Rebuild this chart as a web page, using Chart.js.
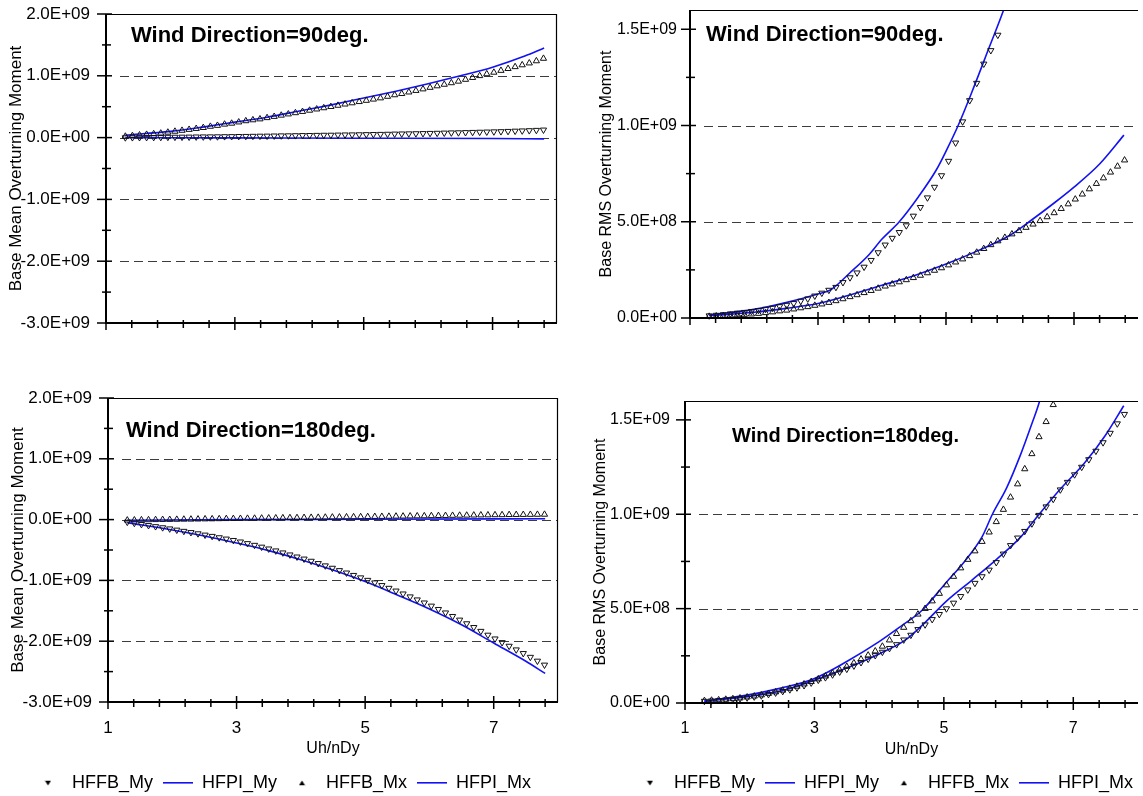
<!DOCTYPE html>
<html>
<head>
<meta charset="utf-8">
<title>Base Overturning Moment</title>
<script src="https://cdn.jsdelivr.net/npm/chart.js@4.4.1/dist/chart.umd.min.js"></script>
<style>
html,body{margin:0;padding:0;background:#fff;}
body{width:1143px;height:796px;overflow:hidden;position:relative;}
canvas{position:absolute;}
</style>
</head>
<body>
<canvas id="tl" width="580" height="340" style="left:0;top:0"></canvas>
<canvas id="tr" width="563" height="340" style="left:580px;top:0"></canvas>
<canvas id="bl" width="580" height="422" style="left:0;top:380px"></canvas>
<canvas id="br" width="563" height="422" style="left:580px;top:380px"></canvas>
<script>
// ---------------- data (moments in units of 1E+09) ----------------
const UNIT = 1e9;
const uh = [1.30,1.41,1.52,1.63,1.74,1.85,1.96,2.07,2.18,2.29,
            2.40,2.51,2.62,2.73,2.84,2.95,3.06,3.17,3.28,3.39,
            3.50,3.61,3.72,3.83,3.94,4.05,4.16,4.27,4.38,4.49,
            4.60,4.71,4.82,4.93,5.04,5.15,5.26,5.37,5.48,5.59,
            5.70,5.81,5.92,6.03,6.14,6.25,6.36,6.47,6.58,6.69,
            6.80,6.91,7.02,7.13,7.24,7.35,7.46,7.57,7.68,7.79];

// Wind Direction = 90deg, mean
const mean90_HFFB_My = [0.000,0.002,0.003,0.004,0.005,0.006,0.008,0.009,0.010,0.011,
                        0.013,0.014,0.015,0.016,0.018,0.019,0.021,0.022,0.024,0.026,
                        0.027,0.029,0.031,0.032,0.034,0.036,0.037,0.039,0.041,0.042,
                        0.044,0.046,0.047,0.049,0.051,0.053,0.055,0.057,0.060,0.062,
                        0.064,0.066,0.068,0.071,0.073,0.076,0.079,0.081,0.084,0.087,
                        0.090,0.093,0.096,0.099,0.103,0.107,0.111,0.115,0.120,0.125];
const mean90_HFFB_Mx = [0.020,0.030,0.040,0.050,0.060,0.070,0.085,0.100,0.115,0.130,
                        0.145,0.160,0.180,0.195,0.215,0.230,0.250,0.270,0.285,0.300,
                        0.320,0.340,0.360,0.380,0.400,0.420,0.440,0.460,0.480,0.500,
                        0.520,0.540,0.560,0.580,0.600,0.620,0.640,0.665,0.690,0.710,
                        0.735,0.760,0.785,0.810,0.835,0.860,0.885,0.910,0.940,0.970,
                        1.000,1.030,1.055,1.085,1.115,1.145,1.175,1.205,1.240,1.280];
const mean90_HFPI_My_x = [1.3,3.0,5.0,7.0,7.8];
const mean90_HFPI_My   = [0.0,-0.005,-0.01,-0.015,-0.02];
const mean90_HFPI_Mx_x = [1.3,2.0,2.5,3.0,3.5,4.0,4.5,5.0,5.5,6.0,6.5,7.0,7.5,7.8];
const mean90_HFPI_Mx   = [0.04,0.10,0.17,0.25,0.33,0.43,0.53,0.64,0.75,0.87,1.00,1.14,1.32,1.45];

// Wind Direction = 90deg, RMS
const rms90_HFFB_My = [0.012,0.015,0.018,0.022,0.026,0.030,0.035,0.040,0.046,0.052,
                       0.060,0.067,0.076,0.088,0.100,0.115,0.130,0.145,0.160,0.185,
                       0.210,0.235,0.265,0.300,0.340,0.380,0.415,0.445,0.480,0.530,
                       0.575,0.625,0.680,0.740,0.815,0.910,1.020,1.130,1.220,1.320,
                       1.390,1.470,null,null,null,null,null,null,null,null,
                       null,null,null,null,null,null,null,null,null,null];
const rms90_HFFB_Mx = [0.008,0.010,0.012,0.014,0.016,0.018,0.020,0.023,0.027,0.031,
                       0.036,0.040,0.046,0.052,0.058,0.065,0.072,0.080,0.089,0.099,
                       0.110,0.120,0.131,0.142,0.154,0.165,0.176,0.187,0.198,0.209,
                       0.221,0.234,0.247,0.260,0.275,0.290,0.306,0.323,0.341,0.360,
                       0.380,0.400,0.418,0.436,0.453,0.470,0.487,0.505,0.525,0.546,
                       0.568,0.592,0.617,0.643,0.670,0.698,0.727,0.757,0.788,0.820];
const rms90_HFPI_My_x = [1.3,2.0,2.5,3.0,3.2,3.5,3.8,4.0,4.27,4.57,4.85,5.02,5.19,5.4,5.68,5.9,5.95];
const rms90_HFPI_My   = [0.015,0.045,0.08,0.125,0.147,0.235,0.33,0.41,0.50,0.63,0.77,0.88,1.0,1.17,1.41,1.6,1.65];
const rms90_HFPI_Mx_x = [1.3,2.0,2.5,3.0,3.5,4.0,4.5,5.0,5.5,6.0,6.3,6.7,7.0,7.4,7.78];
const rms90_HFPI_Mx   = [0.012,0.03,0.05,0.075,0.12,0.17,0.22,0.28,0.35,0.43,0.50,0.60,0.68,0.80,0.95];

// Wind Direction = 180deg, mean
const mean180_HFFB_My = [-0.040,-0.058,-0.077,-0.095,-0.113,-0.131,-0.150,-0.170,-0.190,-0.210,
                         -0.230,-0.252,-0.273,-0.295,-0.317,-0.340,-0.365,-0.392,-0.420,-0.450,
                         -0.480,-0.512,-0.545,-0.578,-0.612,-0.646,-0.682,-0.720,-0.758,-0.797,
                         -0.836,-0.875,-0.915,-0.955,-0.996,-1.038,-1.082,-1.127,-1.172,-1.220,
                         -1.268,-1.318,-1.368,-1.420,-1.475,-1.532,-1.590,-1.650,-1.710,-1.772,
                         -1.835,-1.898,-1.960,-2.020,-2.080,-2.140,-2.200,-2.262,-2.325,-2.390];
const mean180_HFFB_Mx = [-0.010,-0.008,-0.006,-0.005,-0.003,-0.001,0.000,0.002,0.004,0.005,
                         0.007,0.009,0.010,0.012,0.014,0.015,0.017,0.019,0.020,0.022,
                         0.024,0.025,0.027,0.029,0.030,0.032,0.034,0.035,0.037,0.039,
                         0.040,0.042,0.044,0.045,0.047,0.049,0.050,0.052,0.054,0.055,
                         0.057,0.059,0.060,0.062,0.064,0.065,0.067,0.069,0.070,0.072,
                         0.074,0.075,0.077,0.078,0.080,0.081,0.082,0.083,0.084,0.085];
const mean180_HFPI_My_x = [1.3,2.0,2.5,3.0,3.5,4.0,4.5,5.0,5.5,6.0,6.5,7.0,7.5,7.8];
const mean180_HFPI_My   = [-0.05,-0.17,-0.27,-0.385,-0.51,-0.66,-0.83,-1.02,-1.24,-1.47,-1.73,-2.03,-2.33,-2.53];
const mean180_HFPI_Mx_x = [1.3,3.0,5.0,7.8];
const mean180_HFPI_Mx   = [-0.01,0.0,0.005,0.015];

// Wind Direction = 180deg, RMS
const rms180_HFFB_My = [0.010,0.012,0.014,0.017,0.020,0.024,0.028,0.033,0.039,0.046,
                        0.054,0.062,0.071,0.081,0.093,0.107,0.122,0.135,0.150,0.165,
                        0.180,0.197,0.215,0.233,0.252,0.270,0.290,0.310,0.335,0.360,
                        0.390,0.415,0.443,0.470,0.500,0.530,0.565,0.600,0.635,0.670,
                        0.705,0.745,0.790,0.835,0.875,0.910,0.950,0.995,1.040,1.080,
                        1.130,1.170,1.210,1.250,1.290,1.335,1.380,1.430,1.480,1.530];
const rms180_HFFB_Mx = [0.012,0.014,0.016,0.019,0.022,0.026,0.031,0.036,0.042,0.050,
                        0.058,0.067,0.077,0.088,0.100,0.113,0.127,0.142,0.158,0.175,
                        0.193,0.212,0.232,0.253,0.275,0.300,0.333,0.367,0.400,0.435,
                        0.470,0.500,0.540,0.580,0.625,0.670,0.715,0.760,0.805,0.855,
                        0.905,0.960,1.025,1.090,1.160,1.240,1.320,1.410,1.490,1.580,
                        null,null,null,null,null,null,null,null,null,null];
const rms180_HFPI_My_x = [1.3,2.0,2.5,3.0,3.5,4.0,4.39,4.66,5.04,5.43,5.81,6.19,6.46,6.79,7.17,7.5,7.78];
const rms180_HFPI_My   = [0.01,0.035,0.065,0.12,0.185,0.26,0.33,0.41,0.54,0.65,0.76,0.88,0.995,1.13,1.27,1.42,1.575];
const rms180_HFPI_Mx_x = [1.3,2.0,2.5,3.0,3.5,4.0,4.33,4.66,5.04,5.32,5.59,5.75,5.97,6.19,6.36,6.48,6.55];
const rms180_HFPI_Mx   = [0.01,0.045,0.08,0.13,0.22,0.325,0.405,0.49,0.64,0.75,0.88,1.0,1.14,1.32,1.48,1.60,1.70];

// tick labels
const xTickValues = [1, 3, 5, 7];
const xTickLabels = ['1', '3', '5', '7'];
const meanTickValues = [-3, -2, -1, 0, 1, 2];
const meanTickLabels = ['-3.0E+09', '-2.0E+09', '-1.0E+09', '0.0E+00', '1.0E+09', '2.0E+09'];
const rmsTickValues = [0, 0.5, 1, 1.5];
const rmsTickLabels = ['0.0E+00', '5.0E+08', '1.0E+09', '1.5E+09'];
const seriesNames = ['HFFB_My', 'HFPI_My', 'HFFB_Mx', 'HFPI_Mx'];
const xTitle = 'Uh/nDy';

// ---------------- rendering ----------------
const FONT = '"Liberation Sans", Arial, Helvetica, sans-serif';
Chart.defaults.font.family = FONT;
Chart.defaults.color = '#000';
const BLUE = '#1212f2';

function pts(xs, ys) {
  const out = [];
  xs.forEach((x, i) => { if (ys[i] !== null && ys[i] !== undefined) out.push({x: x, y: ys[i] * UNIT}); });
  return out;
}
function triImg(down) {
  const c = document.createElement('canvas'); c.width = 7; c.height = 6;
  const g = c.getContext('2d'); g.fillStyle = '#000'; g.beginPath();
  if (down) { g.moveTo(0.5, 0.8); g.lineTo(6.5, 0.8); g.lineTo(3.5, 5.6); }
  else { g.moveTo(3.5, 0.4); g.lineTo(6.5, 5.2); g.lineTo(0.5, 5.2); }
  g.closePath(); g.fill(); return c;
}
function lineImg() {
  const c = document.createElement('canvas'); c.width = 30; c.height = 2;
  const g = c.getContext('2d'); g.fillStyle = BLUE; g.fillRect(0, 0, 30, 1.6); return c;
}
function markerDs(label, xs, ys, down) {
  return { label, data: pts(xs, ys), showLine: false, pointStyle: 'triangle', rotation: down ? 180 : 0,
    pointRadius: 3.6, pointBorderWidth: 1, pointBorderColor: '#111', pointBackgroundColor: 'rgba(0,0,0,0)',
    borderColor: '#111', backgroundColor: 'rgba(0,0,0,0)', clip: false, legendImg: triImg(down), order: 1 };
}
function lineDs(label, xs, ys) {
  return { label, data: pts(xs, ys), showLine: true, pointRadius: 0, borderColor: BLUE, borderWidth: 1.6,
    tension: 0.3, cubicInterpolationMode: 'monotone', fill: false, legendImg: lineImg(), order: 2 };
}

const framePlugin = {
  id: 'frame',
  beforeDatasetsDraw(chart, args, o) {
    const ctx = chart.ctx, a = chart.chartArea, y = chart.scales.y;
    ctx.save(); ctx.strokeStyle = '#3c3c3c'; ctx.lineWidth = 1; ctx.setLineDash([9, 5]);
    o.dashed.forEach(v => {
      const py = Math.round(y.getPixelForValue(v * UNIT)) + 0.5;
      ctx.beginPath(); ctx.moveTo(a.left + 14, py); ctx.lineTo(a.right, py); ctx.stroke();
    });
    ctx.restore();
  },
  afterDatasetsDraw(chart, args, o) {
    const ctx = chart.ctx, a = chart.chartArea, x = chart.scales.x, y = chart.scales.y;
    ctx.save();
    ctx.strokeStyle = '#000'; ctx.setLineDash([]);
    ctx.lineWidth = 1.2;
    ctx.beginPath(); ctx.moveTo(a.left, a.top + 0.5); ctx.lineTo(a.right, a.top + 0.5); ctx.stroke();
    if (o.rightBorder) { ctx.beginPath(); ctx.moveTo(a.right - 0.5, a.top); ctx.lineTo(a.right - 0.5, a.bottom); ctx.stroke(); }
    ctx.lineWidth = 2;
    ctx.beginPath(); ctx.moveTo(a.left, a.top); ctx.lineTo(a.left, a.bottom); ctx.lineTo(a.right, a.bottom); ctx.stroke();
    ctx.lineWidth = 1.5;
    for (let k = 0; ; k++) {
      const v = o.yMin + k * o.yMinor; if (v > o.yMax + 1e-9) break;
      const py = y.getPixelForValue(v * UNIT);
      const major = o.yMajor.some(t => Math.abs(t - v) < 1e-6);
      ctx.beginPath(); ctx.moveTo(a.left - (major ? 9 : 4), py); ctx.lineTo(a.left + (major ? 6 : 5), py); ctx.stroke();
    }
    for (let k = 0; ; k++) {
      const v = 1 + k * 0.4; if (v > 8 + 1e-9) break;
      const px = x.getPixelForValue(v);
      const major = xTickValues.some(t => Math.abs(t - v) < 1e-6);
      ctx.beginPath(); ctx.moveTo(px, a.bottom - (major ? 6 : 3)); ctx.lineTo(px, a.bottom + (major ? 7 : 5)); ctx.stroke();
    }
    ctx.fillStyle = '#000'; ctx.font = 'bold ' + o.titleSize + 'px ' + FONT;
    ctx.textBaseline = 'alphabetic'; ctx.textAlign = 'left';
    ctx.fillText(o.title, o.titleX, o.titleY);
    ctx.restore();
  }
};

function zeroPad(s) { s.paddingTop = 0; s.paddingBottom = 0; s.paddingLeft = 0; s.paddingRight = 0; }

function makeChart(id, c) {
  const yLabelOf = v => { const i = c.yTicks.findIndex(t => Math.abs(t * UNIT - v) < 1); return i >= 0 ? c.yLabels[i] : ''; };
  const legend = c.legend ? {
    display: true, position: 'bottom', align: c.legendAlign,
    labels: { usePointStyle: true, pointStyleWidth: 30, boxHeight: 6, padding: c.legendPad, color: '#000',
      font: { size: 18, family: FONT },
      generateLabels: ch => ch.data.datasets.map((ds, i) => ({ text: ds.label, pointStyle: ds.legendImg,
        fillStyle: '#000', strokeStyle: '#000', lineWidth: 0, hidden: false, datasetIndex: i, fontColor: '#000' })) }
  } : { display: false };
  return new Chart(document.getElementById(id), {
    type: 'scatter',
    data: { datasets: c.datasets },
    plugins: [framePlugin],
    options: {
      responsive: false, animation: false, devicePixelRatio: 1, events: [],
      layout: { padding: c.padding },
      plugins: {
        legend: legend, tooltip: { enabled: false },
        frame: { dashed: c.dashed, yMin: c.yMin, yMax: c.yTicks[c.yTicks.length - 1], yMinor: c.yMinor, yMajor: c.yTicks,
                 title: c.title, titleX: c.titleX, titleY: c.titleY, titleSize: c.titleSize, rightBorder: c.rightBorder }
      },
      scales: {
        x: { type: 'linear', position: 'bottom', min: 1, max: 8,
             grid: { display: false, drawTicks: false }, border: { display: false },
             afterBuildTicks: s => { s.ticks = xTickValues.map(v => ({ value: v })); },
             afterFit: s => { s.height = c.xHeight; zeroPad(s); },
             ticks: { display: c.xLabels, autoSkip: false, maxRotation: 0, minRotation: 0, padding: 16,
                      font: { size: c.tickFont }, color: '#000',
                      callback: v => { const i = xTickValues.indexOf(v); return i >= 0 ? xTickLabels[i] : ''; } },
             title: { display: c.xLabels, text: xTitle, color: '#000', font: { size: 16 }, padding: { top: 0, bottom: c.xTitlePadB } } },
        y: { type: 'linear', min: c.yMin * UNIT, max: c.yMax * UNIT,
             grid: { display: false, drawTicks: false }, border: { display: false },
             afterBuildTicks: s => { s.ticks = c.yTicks.map(v => ({ value: v * UNIT })); },
             afterFit: s => { s.width = c.yWidth; zeroPad(s); },
             ticks: { padding: c.yTickPad, font: { size: c.tickFont }, color: '#000', callback: v => yLabelOf(v) },
             title: { display: true, text: c.yTitle, color: '#000', font: { size: c.yTitleFont }, padding: { top: c.yTitlePadT, bottom: 0 } } }
      }
    }
  });
}

function sets(my, mx, piMyX, piMy, piMxX, piMx) {
  return [ markerDs(seriesNames[0], uh, my, true), lineDs(seriesNames[1], piMyX, piMy),
           markerDs(seriesNames[2], uh, mx, false), lineDs(seriesNames[3], piMxX, piMx) ];
}

makeChart('tl', {
  datasets: sets(mean90_HFFB_My, mean90_HFFB_Mx, mean90_HFPI_My_x, mean90_HFPI_My, mean90_HFPI_Mx_x, mean90_HFPI_Mx),
  padding: { top: 14, right: 23, left: 0, bottom: 0 }, yWidth: 106, xHeight: 17,
  yMin: -3, yMax: 2, yTicks: meanTickValues, yLabels: meanTickLabels, yMinor: 0.5, dashed: [-2, -1, 0, 1],
  yTitle: 'Base Mean Overturning Moment', yTitleFont: 17, yTitlePadT: 6, yTickPad: 16, tickFont: 17,
  xLabels: false, legend: false, rightBorder: true,
  title: 'Wind Direction=90deg.', titleX: 131, titleY: 42, titleSize: 22
});
makeChart('tr', {
  datasets: sets(rms90_HFFB_My, rms90_HFFB_Mx, rms90_HFPI_My_x, rms90_HFPI_My, rms90_HFPI_Mx_x, rms90_HFPI_Mx),
  padding: { top: 10, right: 0, left: 0, bottom: 0 }, yWidth: 110, xHeight: 22,
  yMin: 0, yMax: 1.6, yTicks: rmsTickValues, yLabels: rmsTickLabels, yMinor: 0.25, dashed: [0.5, 1],
  yTitle: 'Base RMS Overturning Moment', yTitleFont: 16, yTitlePadT: 17, yTickPad: 13, tickFont: 16,
  xLabels: false, legend: false, rightBorder: false,
  title: 'Wind Direction=90deg.', titleX: 126, titleY: 41, titleSize: 22
});
makeChart('bl', {
  datasets: sets(mean180_HFFB_My, mean180_HFFB_Mx, mean180_HFPI_My_x, mean180_HFPI_My, mean180_HFPI_Mx_x, mean180_HFPI_Mx),
  padding: { top: 18, right: 22, left: 6, bottom: 0 }, yWidth: 102, xHeight: 62, xTitlePadB: 6,
  yMin: -3, yMax: 2, yTicks: meanTickValues, yLabels: meanTickLabels, yMinor: 0.5, dashed: [-2, -1, 0, 1],
  yTitle: 'Base Mean Overturning Moment', yTitleFont: 17, yTitlePadT: 2, yTickPad: 16, tickFont: 17,
  xLabels: true, legend: true, legendAlign: 'center', legendPad: 10, rightBorder: true,
  title: 'Wind Direction=180deg.', titleX: 126, titleY: 57, titleSize: 22
});
makeChart('br', {
  datasets: sets(rms180_HFFB_My, rms180_HFFB_Mx, rms180_HFPI_My_x, rms180_HFPI_My, rms180_HFPI_Mx_x, rms180_HFPI_Mx),
  padding: { top: 21, right: 0, left: 0, bottom: 0 }, yWidth: 105, xHeight: 61, xTitlePadB: 5,
  yMin: 0, yMax: 1.6, yTicks: rmsTickValues, yLabels: rmsTickLabels, yMinor: 0.25, dashed: [0.5, 1],
  yTitle: 'Base RMS Overturning Moment', yTitleFont: 16, yTitlePadT: 11, yTickPad: 15, tickFont: 16,
  xLabels: true, legend: true, legendAlign: 'end', legendPad: 10, rightBorder: false,
  title: 'Wind Direction=180deg.', titleX: 152, titleY: 62, titleSize: 20
});
</script>
</body>
</html>
